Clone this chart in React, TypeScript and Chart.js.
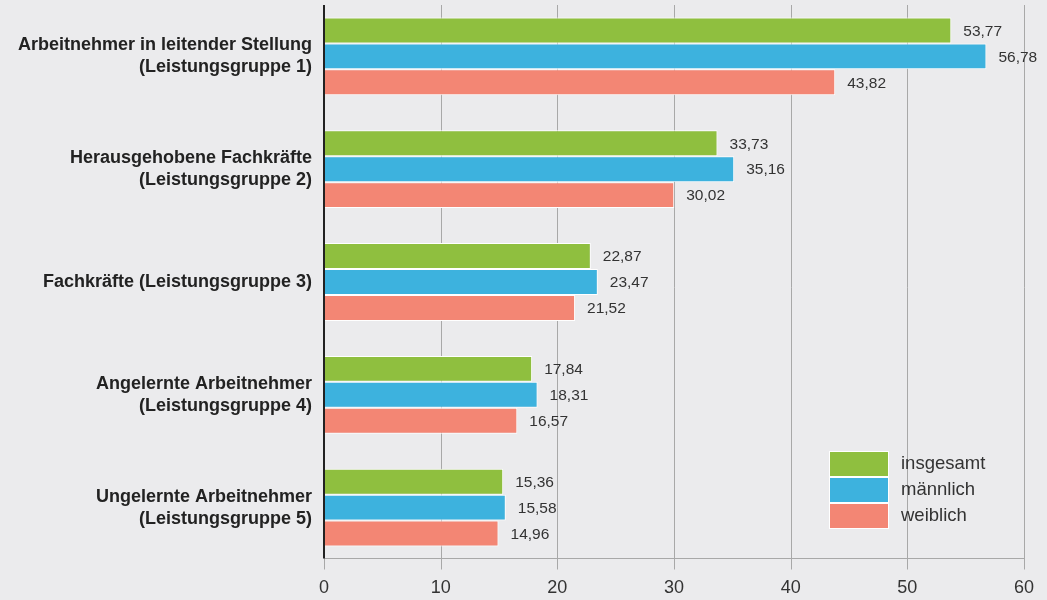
import React, { useEffect, useRef } from "react";
import { Chart, registerables } from "chart.js";

Chart.register(...registerables);

const categories: string[][] = [
  ["Arbeitnehmer in leitender Stellung", "(Leistungsgruppe 1)"],
  ["Herausgehobene Fachkräfte", "(Leistungsgruppe 2)"],
  ["Fachkräfte (Leistungsgruppe 3)"],
  ["Angelernte Arbeitnehmer", "(Leistungsgruppe 4)"],
  ["Ungelernte Arbeitnehmer", "(Leistungsgruppe 5)"],
];
const seriesNames = ["insgesamt", "männlich", "weiblich"];
const insgesamt = [53.77, 33.73, 22.87, 17.84, 15.36];
const maennlich = [56.78, 35.16, 23.47, 18.31, 15.58];
const weiblich = [43.82, 30.02, 21.52, 16.57, 14.96];
const xTicks = [0, 10, 20, 30, 40, 50, 60];
const colors = ["#8fbf3f", "#3db2de", "#f38674"];

const FONT = '"Liberation Sans", Arial, sans-serif';

export default function App() {
  const ref = useRef<HTMLCanvasElement | null>(null);
  useEffect(() => {
    if (!ref.current) return;
    const bgPlugin = {
      id: "bg",
      beforeDraw(chart: any) {
        const { ctx, width, height } = chart;
        ctx.save();
        ctx.fillStyle = "#ebebed";
        ctx.fillRect(0, 0, width, height);
        ctx.restore();
      },
    };
    const gridPlugin = {
      id: "customGrid",
      beforeDatasetsDraw(chart: any) {
        const { ctx, chartArea } = chart;
        const x = chart.scales.x;
        const axisY = chartArea.bottom - 5.5;
        ctx.save();
        ctx.strokeStyle = "#a8a8a8";
        ctx.lineWidth = 1;
        ctx.beginPath();
        xTicks.forEach((v) => {
          const px = Math.round(x.getPixelForValue(v)) + 0.5;
          if (v === 0) {
            ctx.moveTo(px, axisY);
          } else {
            ctx.moveTo(px, 5);
          }
          ctx.lineTo(px, axisY + 11);
        });
        ctx.moveTo(chartArea.left, axisY);
        ctx.lineTo(chartArea.right + 1, axisY);
        ctx.stroke();
        ctx.restore();
      },
      afterDatasetsDraw(chart: any) {
        const { ctx, chartArea } = chart;
        const axisY = chartArea.bottom - 5.5;
        ctx.save();
        ctx.fillStyle = "#222";
        ctx.fillRect(chartArea.left - 1, 5, 2, axisY - 5);
        // value labels
        ctx.font = `15.5px ${FONT}`;
        ctx.fillStyle = "#333";
        ctx.textAlign = "left";
        ctx.textBaseline = "middle";
        chart.data.datasets.forEach((ds: any, di: number) => {
          const meta = chart.getDatasetMeta(di);
          meta.data.forEach((bar: any, i: number) => {
            const v = ds.data[i] as number;
            ctx.fillText(v.toFixed(2).replace(".", ","), bar.x + 12, bar.y + 1);
          });
        });
        ctx.restore();
      },
    };
    const legendPlugin = {
      id: "customLegend",
      afterDraw(chart: any) {
        const { ctx } = chart;
        ctx.save();
        const bx = 829;
        const by = 451;
        const bw = 60;
        const bh = 26;
        seriesNames.forEach((name, i) => {
          const y = by + i * bh;
          ctx.fillStyle = colors[i];
          ctx.fillRect(bx, y, bw, bh);
          ctx.strokeStyle = "#ffffff";
          ctx.lineWidth = 1;
          ctx.strokeRect(bx + 0.5, y + 0.5, bw - 1, bh - 1);
          ctx.fillStyle = "#333";
          ctx.font = `18.5px ${FONT}`;
          ctx.textAlign = "left";
          ctx.textBaseline = "middle";
          ctx.fillText(name, 901, y + bh / 2);
        });
        ctx.restore();
      },
    };

    const mk = (label: string, data: number[], i: number) => ({
      label,
      data,
      backgroundColor: colors[i],
      borderColor: "#ffffff",
      borderWidth: 1,
      borderSkipped: false,
      categoryPercentage: 0.69,
      barPercentage: 1,
    });

    const chart = new Chart(ref.current, {
      type: "bar",
      data: {
        labels: categories as any,
        datasets: [
          mk(seriesNames[0], insgesamt, 0),
          mk(seriesNames[1], maennlich, 1),
          mk(seriesNames[2], weiblich, 2),
        ],
      },
      options: {
        indexAxis: "y",
        animation: false,
        responsive: false,
        layout: { padding: { left: 0, top: 0, bottom: 0, right: 23 } },
        plugins: {
          legend: { display: false },
          tooltip: { enabled: false },
        },
        scales: {
          x: {
            min: 0,
            max: 60,
            ticks: {
              stepSize: 10,
              color: "#333",
              font: { family: FONT, size: 18 },
              padding: 13,
            },
            grid: { display: false, drawTicks: false },
            border: { display: false },
            afterFit(scale: any) {
              scale.height = 36;
              scale.paddingLeft = 0;
              scale.paddingRight = 0;
            },
          },
          y: {
            ticks: {
              color: "#222",
              font: { family: FONT, size: 18, weight: "bold", lineHeight: 1.22 },
              padding: 12,
            },
            grid: { display: false, drawTicks: false },
            border: { display: false },
            afterFit(scale: any) {
              scale.width = 324;
              scale.paddingTop = 0;
              scale.paddingBottom = 0;
            },
          },
        },
      },
      plugins: [bgPlugin, gridPlugin, legendPlugin],
    } as any);
    return () => chart.destroy();
  }, []);

  return (
    <div style={{ position: "fixed", left: 0, top: 0, width: 1047, height: 600 }}>
      <canvas ref={ref} width={1047} height={600} />
    </div>
  );
}
